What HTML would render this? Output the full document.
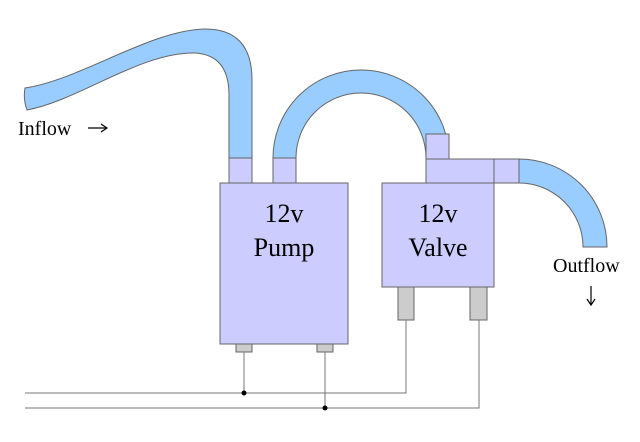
<!DOCTYPE html><html><head><style>body{margin:0;background:#fff}svg{display:block}</style></head><body>
<svg width="640" height="442" viewBox="0 0 640 442" font-family="'Liberation Serif','DejaVu Serif',serif">
<g stroke="#666" stroke-width="1" fill="#99ccff">
<path d="M25,88 C80,80 150,30 205,29 Q252,29 252,80 L252,158 L229,158 L229,95 Q229,55 195,53 C140,52 80,100 27,110 Q23,99 25,88Z"/>
<path d="M273,158 A88,88 0 0 1 449,158 L449,134 L426,134 L426,158 A65,65 0 0 0 296,158Z"/>
<path d="M519,159 A88,88 0 0 1 607,247 L583,247 A64,64 0 0 0 519,183Z"/>
</g>
<g stroke="#666" stroke-width="1" fill="#ccccff">
<rect x="229" y="158" width="23" height="25"/><rect x="273" y="158" width="23" height="25"/>
<rect x="426" y="134" width="23" height="25"/>
<rect x="426" y="159" width="68" height="24"/><rect x="494" y="159" width="25" height="24"/>
<rect x="220" y="183" width="128" height="161"/>
<rect x="382" y="183" width="112" height="104"/>
</g>
<g stroke="#666" fill="#cccccc">
<rect x="236" y="344" width="16" height="8"/><rect x="317" y="344" width="16" height="8"/>
<rect x="398" y="287" width="16" height="33"/><rect x="470" y="287" width="17" height="33"/>
</g>
<g stroke="#777" fill="none">
<polyline points="25,393 406,393 406,320"/><polyline points="25,408 479,408 479,320"/>
<line x1="244" y1="352" x2="244" y2="393"/><line x1="325" y1="352" x2="325" y2="408"/>
</g>
<circle cx="244" cy="393" r="2.5"/><circle cx="325" cy="408" r="2.5"/>
<g font-size="26" text-anchor="middle" fill="#000"><text x="284" y="222">12v</text><text x="284" y="256">Pump</text>
<text x="438" y="222">12v</text><text x="438" y="256">Valve</text></g>
<text x="18" y="135" font-size="20">Inflow</text>
<line x1="88" y1="128" x2="106" y2="128" stroke="#000" stroke-width="1.2"/><path d="M101,124 L107,128 L101,132" fill="none" stroke="#000" stroke-width="1.2"/>
<text x="553" y="272" font-size="20">Outflow</text>
<line x1="591" y1="286" x2="591" y2="304" stroke="#000" stroke-width="1.2"/><path d="M587,299 L591,305 L595,299" fill="none" stroke="#000" stroke-width="1.2"/>
</svg></body></html>
